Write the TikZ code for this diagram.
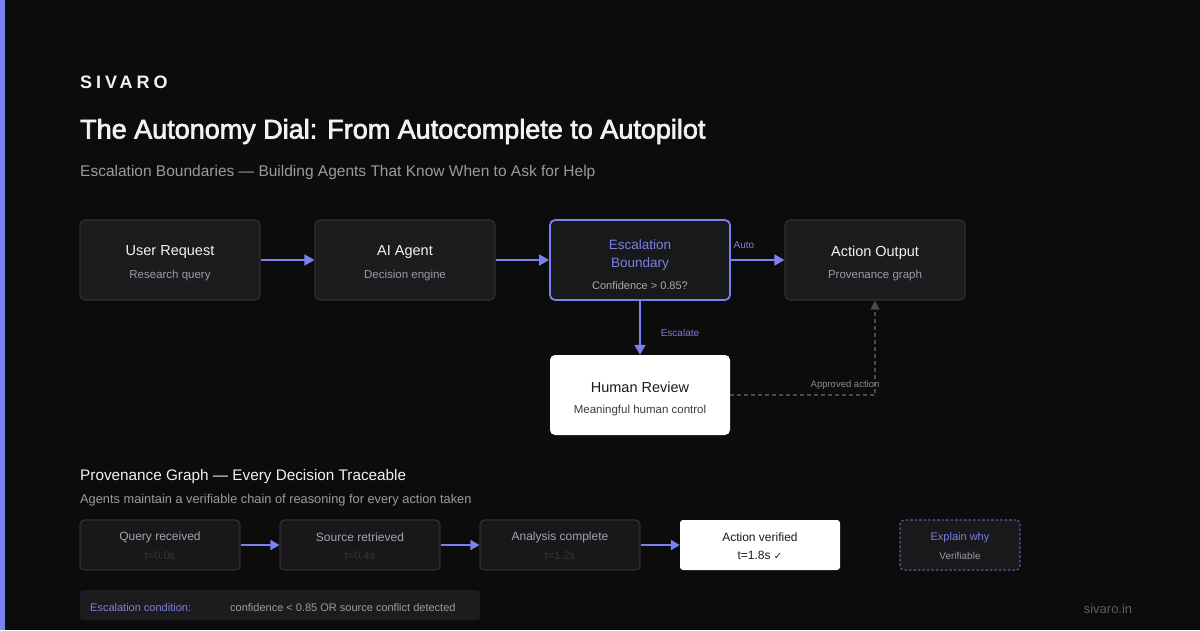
\documentclass[tikz,border=0pt]{standalone}
\usepackage{fontspec}
\setmainfont{Liberation Sans}
\newfontfamily\logofont[LetterSpace=22]{Liberation Sans}
\newfontfamily\titlefont[FakeBold=2.5]{Liberation Sans}
\newfontfamily\symfont{DejaVu Sans}
\usetikzlibrary{arrows.meta}
\definecolor{bg}{HTML}{0C0C0D}
\definecolor{boxfill}{HTML}{1C1C1F}
\definecolor{boxline}{HTML}{2E2E33}
\definecolor{accent}{HTML}{7C80F0}
\definecolor{accenttext}{HTML}{7B7FE0}
\definecolor{graytext}{HTML}{9A9AA2}
\definecolor{whitetext}{HTML}{F2F2F2}
\definecolor{dimtext}{HTML}{36363B}
\definecolor{darktext}{HTML}{1A1A1E}
\definecolor{dashgray}{HTML}{4A4A50}
\newcommand{\fs}[1]{\fontsize{#1}{#1}\selectfont}
\tikzset{
  flowbox/.style={draw=boxline, fill=boxfill, line width=1.2pt, rounded corners=5pt, minimum width=180pt, minimum height=80pt, inner sep=0pt},
  provbox/.style={draw=boxline, fill=boxfill, line width=1.2pt, rounded corners=4pt, minimum width=160pt, minimum height=50pt, inner sep=0pt},
  whitebox/.style={fill=white, rounded corners=5pt, inner sep=0pt},
  flowarrow/.style={draw=accent, line width=1.8pt, -{Triangle[length=10pt,width=11pt]}},
  provarrow/.style={draw=accent, line width=1.8pt, -{Triangle[length=9pt,width=10pt]}},
  lbl/.style={inner sep=0pt, anchor=center, yshift=-1.5pt},
}
\begin{document}
\begin{tikzpicture}[x=1pt,y=-1pt]
\fill[bg] (0,0) rectangle (1200,630);
\useasboundingbox (0,0) rectangle (1200,630);
\fill[accent] (0,0) rectangle (5,630);

% header
\node[lbl, anchor=west, text=whitetext] (logo) at (80,81) {\logofont\fs{18}\bfseries SIVARO};
\node[lbl, anchor=west, text=whitetext] (title) at (80,130) {\titlefont\fs{27}The Autonomy Dial: From Autocomplete to Autopilot};
\node[lbl, anchor=west, text=graytext] (subtitle) at (80,171) {\fs{15.5}Escalation Boundaries --- Building Agents That Know When to Ask for Help};

% row 1
\node[flowbox] (user) at (170,260) {};
\node[lbl, text=whitetext] at (170,251) {\fs{14.5}User Request};
\node[lbl, text=graytext] at (170,274) {\fs{11.5}Research query};

\node[flowbox] (agent) at (405,260) {};
\node[lbl, text=whitetext] at (405,251) {\fs{14.5}AI Agent};
\node[lbl, text=graytext] at (405,274) {\fs{11.5}Decision engine};

\node[flowbox, draw=accent, fill=boxfill!80!bg, line width=1.8pt] (esc) at (640,260) {};
\node[lbl, text=accenttext] at (640,243) {\fs{13.5}Escalation};
\node[lbl, text=accenttext] at (640,263) {\fs{13.5}Boundary};
\node[lbl, text=graytext!85!white] at (640,284) {\fs{11}Confidence > 0.85?};

\node[flowbox] (action) at (875,260) {};
\node[lbl, text=whitetext] at (875,251) {\fs{14.5}Action Output};
\node[lbl, text=graytext] at (875,274) {\fs{11.5}Provenance graph};

\node[whitebox, minimum width=180pt, minimum height=80pt] (human) at (640,395) {};
\node[lbl, text=darktext] at (640,386) {\fs{14.5}Human Review};
\node[lbl, text=darktext!85!white] at (640,409) {\fs{11.5}Meaningful human control};

\draw[flowarrow] (user.east) -- (agent.west);
\draw[flowarrow] (agent.east) -- (esc.west);
\draw[flowarrow] (esc.east) -- (action.west);
\node[lbl, text=accenttext] (autolbl) at (744,244) {\fs{10}Auto};
\draw[flowarrow] (esc.south) -- (human.north);
\node[lbl, text=accenttext] (esclbl) at (680,331) {\fs{10}Escalate};

\coordinate (corner) at (875,395);
\draw[draw=dashgray, line width=1.3pt, dash pattern=on 4pt off 3pt, -{Triangle[length=9pt,width=9pt]}] (human.east) -- (corner) -- (action.south);
\node[lbl, text=graytext!90!black] (applbl) at (845,384) {\fs{9.5}Approved action};

% provenance
\node[lbl, anchor=west, text=whitetext] (provtitle) at (80,475) {\fs{15.3}Provenance Graph --- Every Decision Traceable};
\node[lbl, anchor=west, text=graytext] (provsub) at (80,499) {\fs{12.8}Agents maintain a verifiable chain of reasoning for every action taken};

\node[provbox, fill=boxfill!75!bg] (p1) at (160,545) {};
\node[lbl, text=graytext!90!white] at (160,536) {\fs{12}Query received};
\node[lbl, text=dimtext] at (160,554) {\fs{11}t=0.0s};

\node[provbox, fill=boxfill!75!bg] (p2) at (360,545) {};
\node[lbl, text=graytext!90!white] at (360,536) {\fs{12}Source retrieved};
\node[lbl, text=dimtext] at (360,554) {\fs{11}t=0.4s};

\node[provbox, fill=boxfill!75!bg] (p3) at (560,545) {};
\node[lbl, text=graytext!90!white] at (560,536) {\fs{12}Analysis complete};
\node[lbl, text=dimtext] at (560,554) {\fs{11}t=1.2s};

\node[whitebox, rounded corners=3pt, minimum width=160pt, minimum height=50pt] (p4) at (760,545) {};
\node[lbl, text=darktext] at (760,536) {\fs{12}Action verified};
\node[lbl, text=darktext] at (760,554) {\fs{12}t=1.8s {\symfont\fs{10}✓}};

\draw[provarrow] (p1.east) -- (p2.west);
\draw[provarrow] (p2.east) -- (p3.west);
\draw[provarrow] (p3.east) -- (p4.west);

\node[draw=accent!70!black, fill=boxfill!80!bg, line width=1.2pt, dash pattern=on 2.5pt off 2pt, rounded corners=4pt, minimum width=120pt, minimum height=50pt] (why) at (960,545) {};
\node[lbl, text=accenttext] at (960,536) {\fs{11}Explain why};
\node[lbl, text=graytext] at (960,554) {\fs{10}Verifiable};

% condition bar
\node[fill=boxfill, rounded corners=3pt, minimum width=400pt, minimum height=30pt, inner sep=0pt] (cond) at (280,605) {};
\node[lbl, anchor=west, text=accenttext] (condlbl) at (90,606) {\fs{11}Escalation condition:};
\node[lbl, anchor=west, text=graytext] (condtxt) at (230,606) {\fs{11}confidence < 0.85 OR source conflict detected};

\node[lbl, text=dimtext!80!white] (site) at (1108,607) {\fs{13}sivaro.in};
\end{tikzpicture}
\end{document}
